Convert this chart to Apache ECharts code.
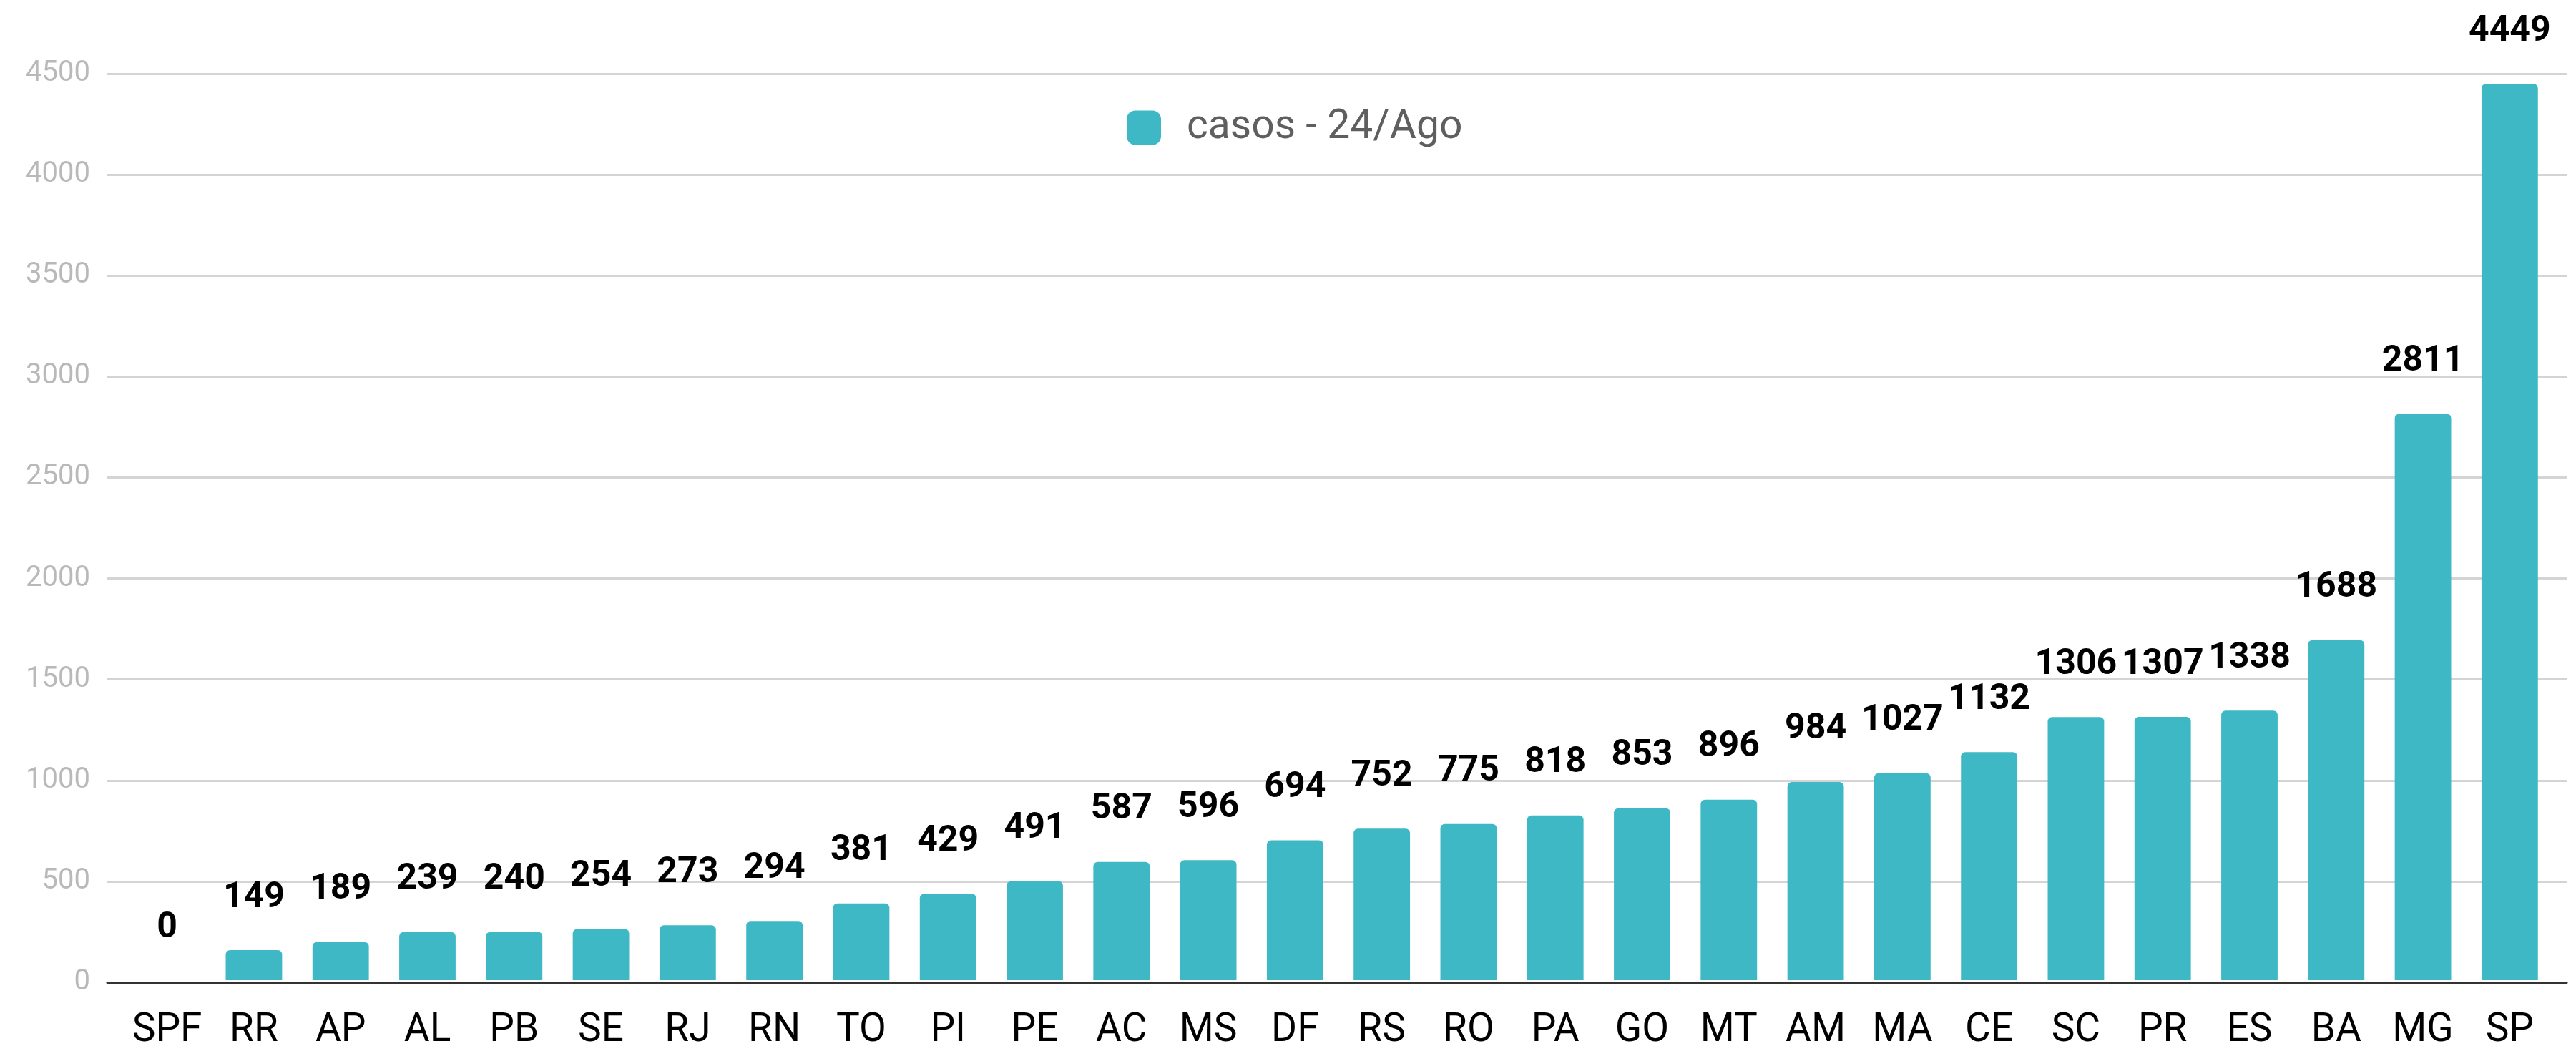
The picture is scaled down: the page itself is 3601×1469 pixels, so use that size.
<!DOCTYPE html>
<html>
<head>
<meta charset="utf-8">
<script src="https://cdn.jsdelivr.net/npm/echarts@6/dist/echarts.min.js"></script>
<style>
  html, body {margin: 0; padding: 0; background: #fff;}
  #main {width: 3601px; height: 1469px;}
</style>
</head>
<body>
<div id="main"></div>
<script>
// estados, ordenados por casos
var estados = ['SPF', 'RR', 'AP', 'AL', 'PB', 'SE', 'RJ', 'RN', 'TO', 'PI', 'PE', 'AC', 'MS', 'DF',
    'RS', 'RO', 'PA', 'GO', 'MT', 'AM', 'MA', 'CE', 'SC', 'PR', 'ES', 'BA', 'MG', 'SP'];
var casos = [0, 149, 189, 239, 240, 254, 273, 294, 381, 429, 491, 587, 596, 694,
    752, 775, 818, 853, 896, 984, 1027, 1132, 1306, 1307, 1338, 1688, 2811, 4449];
var serieNome = 'casos - 24/Ago';
var yMax = 4500;
var yPasso = 500;

var cor = '#3fb8c5';
var myChart = echarts.init(document.getElementById('main'));

myChart.setOption({
    animation: false,
    backgroundColor: '#fff',
    legend: {
        left: 1575,
        top: 150,
        padding: 0,
        itemWidth: 48,
        itemHeight: 48,
        icon: 'roundRect',
        data: [serieNome],
        textStyle: {
            fontFamily: 'Roboto',
            fontSize: 57,
            color: '#5f5f5f',
            padding: [0, 0, 0, 31]
        }
    },
    grid: [
        // grade de fundo (linhas e eixo)
        {left: 150, right: 13, top: 103, bottom: 96},
        // barras
        {left: 173, right: 32, top: 103, bottom: 96}
    ],
    xAxis: [
        {
            gridIndex: 0,
            type: 'value',
            min: 0,
            max: 1,
            axisLine: {show: true, lineStyle: {color: '#333', width: 3}},
            axisTick: {show: false},
            axisLabel: {show: false},
            splitLine: {show: false}
        },
        {
            gridIndex: 1,
            type: 'category',
            data: estados,
            axisLine: {show: false},
            axisTick: {show: false},
            axisLabel: {
                interval: 0,
                margin: 44,
                fontFamily: 'Roboto',
                fontSize: 55,
                color: '#000'
            }
        }
    ],
    yAxis: [
        {
            gridIndex: 0,
            type: 'value',
            min: 0,
            max: yMax,
            interval: yPasso,
            axisLine: {show: false},
            axisTick: {show: false},
            axisLabel: {
                margin: 24,
                fontFamily: 'Roboto',
                fontSize: 40,
                color: '#b9b9b9',
                formatter: function (v) { return String(v); }
            },
            splitLine: {lineStyle: {color: '#d4d4d4', width: 3}}
        },
        {
            gridIndex: 1,
            type: 'value',
            min: 0,
            max: yMax,
            show: false
        }
    ],
    series: [
        {
            name: serieNome,
            type: 'bar',
            xAxisIndex: 1,
            yAxisIndex: 1,
            data: casos,
            barCategoryGap: '35%',
            itemStyle: {color: cor, borderRadius: [6, 6, 0, 0]},
            label: {
                show: true,
                position: 'top',
                distance: 48,
                fontFamily: 'Roboto',
                fontWeight: 'bold',
                fontSize: 50,
                color: '#000'
            }
        }
    ]
});
</script>
</body>
</html>
